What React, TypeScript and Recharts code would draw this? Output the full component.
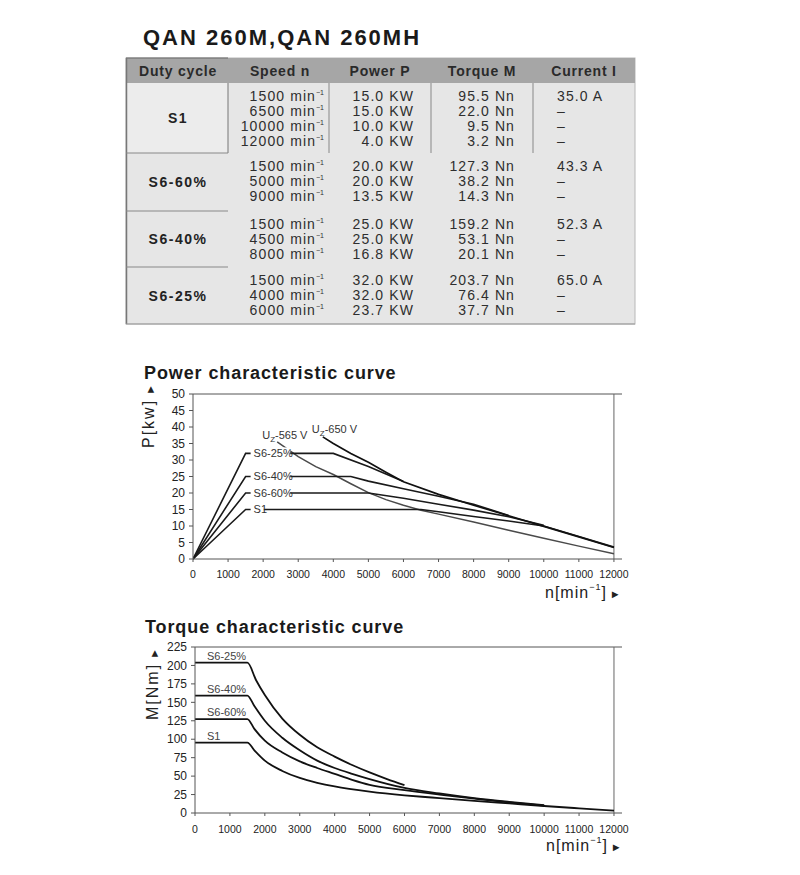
import React from 'react';
import { LineChart, Line, XAxis, YAxis, ReferenceLine, ReferenceDot } from 'recharts';

const FONT = '"Liberation Sans", Arial, Helvetica, sans-serif';

// ---------- table data ----------
const tableHeaders = ['Duty cycle', 'Speed n', 'Power P', 'Torque M', 'Current I'];
const dutyCycles = ['S1', 'S6-60%', 'S6-40%', 'S6-25%'];
const speeds = [
  [1500, 6500, 10000, 12000],
  [1500, 5000, 9000],
  [1500, 4500, 8000],
  [1500, 4000, 6000],
];
const powers = [
  ['15.0', '15.0', '10.0', '4.0'],
  ['20.0', '20.0', '13.5'],
  ['25.0', '25.0', '16.8'],
  ['32.0', '32.0', '23.7'],
];
const torques = [
  ['95.5', '22.0', '9.5', '3.2'],
  ['127.3', '38.2', '14.3'],
  ['159.2', '53.1', '20.1'],
  ['203.7', '76.4', '37.7'],
];
const currents = ['35.0 A', '43.3 A', '52.3 A', '65.0 A'];

// ---------- axis ticks ----------
const nTicks = [0, 1000, 2000, 3000, 4000, 5000, 6000, 7000, 8000, 9000, 10000, 11000, 12000];
const pTicks = [0, 5, 10, 15, 20, 25, 30, 35, 40, 45, 50];
const mTicks = [0, 25, 50, 75, 100, 125, 150, 175, 200, 225];

// ---------- power curves [n, P kW] ----------
const powerS1 = [[0, 0], [1500, 15], [6500, 15], [7000, 14.3], [8000, 12.9], [9000, 11.5], [10000, 10], [11000, 6.8], [12000, 3.6]];
const powerS660 = [[0, 0], [1500, 20], [5000, 20], [6000, 18.4], [7000, 16.6], [8000, 14.8], [9000, 12.8], [10000, 10.2]];
const powerS640 = [[0, 0], [1500, 25], [4500, 25], [5000, 23.6], [6000, 21.3], [7000, 19], [8000, 16.6], [9000, 13.2]];
const powerS625 = [[0, 0], [1500, 32], [4000, 32], [5000, 28], [6000, 23.5]];
const powerU650 = [[3700, 37], [4000, 35], [4500, 32], [5000, 29.3], [5500, 26.3], [6000, 23.4], [7000, 19.6], [8000, 16.3], [9000, 13.1], [10000, 9.9], [11000, 6.7], [12000, 3.5]];
const powerU565 = [[2400, 35.5], [3000, 31], [3500, 28], [4000, 25.6], [4500, 22.8], [5000, 20.1], [5500, 18], [6000, 16.3], [6500, 14.8], [7000, 13.6], [8000, 11.2], [9000, 8.7], [10000, 6.3], [11000, 3.9], [12000, 1.6]];

// ---------- torque curves [n, M Nm] ----------
const torqueS1 = [[0, 95.5], [1500, 95.5], [1700, 85], [2000, 71], [2500, 57], [3000, 47.5], [3500, 41], [4000, 36], [5000, 29], [6000, 24], [6500, 22], [7000, 20.3], [8000, 16.5], [9000, 13], [10000, 9.5], [11000, 6.3], [12000, 3.2]];
const torqueS660 = [[0, 127.3], [1500, 127.3], [1700, 114], [2000, 98], [2500, 82], [3000, 70], [3500, 61], [4000, 53], [4500, 45], [5000, 38.2], [6000, 31], [7000, 25], [8000, 19.5], [9000, 14.3], [10000, 10]];
const torqueS640 = [[0, 159.2], [1500, 159.2], [1700, 145], [2000, 125], [2500, 102], [3000, 85], [3500, 71], [4000, 61], [4500, 53.1], [5000, 46], [6000, 34], [7000, 26.5], [8000, 20.1], [9000, 15], [10000, 10.5]];
const torqueS625 = [[0, 203.7], [1500, 203.7], [1750, 180], [2000, 160], [2500, 128], [3000, 106], [3500, 89], [4000, 76.4], [4500, 65], [5000, 55], [5500, 46], [6000, 37.7]];

const pts = (arr: number[][]) => arr.map(([n, v]) => ({ n, v }));

// ---------- table geometry ----------
const TX0 = 126, TX1 = 635, HY0 = 58, HY1 = 83;
const rowTops = [83, 153, 211, 267];
const rowBottoms = [153, 211, 267, 324];
const colX = [126, 228, 329, 431, 533, 635];
const headerCx = [178, 280, 380, 482, 584];

const bodyText = { fontFamily: FONT, fontSize: 14, fill: '#2e2e2e', letterSpacing: 1.1 } as const;

function Table() {
  const els: React.ReactNode[] = [];
  els.push(<rect key="bg" x={TX0} y={HY0} width={TX1 - TX0} height={rowBottoms[3] - HY0} fill="#e6e6e6" stroke="#b8b8b8" />);
  els.push(<rect key="hdr" x={TX0} y={HY0} width={TX1 - TX0} height={HY1 - HY0} fill="#a6a6a6" />);
  els.push(<line key="hdrtop" x1={TX0} y1={HY0} x2={228} y2={HY0} stroke="#666" />);
  els.push(<rect key="s1cell" x={TX0} y={83} width={102} height={70} fill="#ececec" />);
  els.push(<line key="lb" x1={TX0 + 0.5} y1={HY0} x2={TX0 + 0.5} y2={324} stroke="#777" strokeWidth={1.5} />);
  els.push(<line key="bb" x1={TX0} y1={324} x2={TX1} y2={324} stroke="#999" strokeWidth={1.2} />);
  [1, 2, 3, 4].forEach((i) => {
    els.push(<line key={'v' + i} x1={colX[i]} y1={83} x2={colX[i]} y2={153} stroke={i === 1 ? '#777' : '#888'} />);
  });
  [153, 211, 267].forEach((y, i) => {
    els.push(<line key={'h' + i} x1={TX0} y1={y} x2={228} y2={y} stroke="#888" strokeWidth={1.2} />);
  });
  tableHeaders.forEach((h, i) => {
    els.push(
      <text key={'th' + i} x={headerCx[i]} y={76} textAnchor="middle" fontFamily={FONT} fontSize={14} fontWeight="bold" fill="#2a2a2a" letterSpacing={0.8}>
        {h}
      </text>
    );
  });
  dutyCycles.forEach((d, r) => {
    const top = rowTops[r];
    const mid = (rowTops[r] + rowBottoms[r]) / 2;
    els.push(
      <text key={'d' + r} x={178} y={mid + 5} textAnchor="middle" fontFamily={FONT} fontSize={14} fontWeight="bold" fill="#222" letterSpacing={1.5}>
        {d}
      </text>
    );
    speeds[r].forEach((s, j) => {
      const y = top + 18 + j * 15;
      els.push(
        <text key={`s${r}-${j}`} x={324} y={y} textAnchor="end" {...bodyText}>
          {`${s} min`}
          <tspan dy={-6} fontSize={7} letterSpacing={0}>−1</tspan>
        </text>
      );
      els.push(
        <text key={`p${r}-${j}`} x={414} y={y} textAnchor="end" {...bodyText}>
          {`${powers[r][j]} KW`}
        </text>
      );
      els.push(
        <text key={`t${r}-${j}`} x={515} y={y} textAnchor="end" {...bodyText}>
          {`${torques[r][j]} Nn`}
        </text>
      );
      els.push(
        <text key={`c${r}-${j}`} x={557} y={y} textAnchor="start" {...bodyText}>
          {j === 0 ? currents[r] : '–'}
        </text>
      );
    });
  });
  return <g>{els}</g>;
}

const axisTick = { fill: '#222', fontSize: 10.5, fontFamily: FONT };
const yTick = { fill: '#222', fontSize: 12, fontFamily: FONT };

function boxLabel(text: string) {
  return (props: any) => {
    const { cx, cy } = props;
    const w = text.length * 6.6;
    return (
      <g>
        <rect x={cx + 5} y={cy - 6} width={w} height={12} fill="#fff" />
        <text x={cx + 8} y={cy} dy="0.35em" fontFamily={FONT} fontSize={11} fill="#333">
          {text}
        </text>
      </g>
    );
  };
}

function uLabel(volt: string, dx: number, dy: number) {
  return (props: any) => {
    const { cx, cy } = props;
    return (
      <text x={cx + dx} y={cy + dy} fontFamily={FONT} fontSize={11} fill="#333">
        U<tspan dy={3} fontSize={8}>Z</tspan>
        <tspan dy={-3}>{`-${volt} V`}</tspan>
      </text>
    );
  };
}

function aboveLabel(text: string) {
  return (props: any) => {
    const { cx, cy } = props;
    return (
      <text x={cx + 12} y={cy - 3} fontFamily={FONT} fontSize={11} fill="#444">
        {text}
      </text>
    );
  };
}

const lineProps = { type: 'linear' as const, dataKey: 'v', dot: false, isAnimationActive: false, activeDot: false };

function PowerChart() {
  return (
    <LineChart width={630} height={270} margin={{ top: 54, right: 8, bottom: 31, left: 133 }}>
      <XAxis dataKey="n" type="number" domain={[0, 12230]} ticks={nTicks} interval={0} allowDataOverflow height={20} tickSize={3} tickMargin={9} stroke="#555" tick={axisTick} />
      <YAxis type="number" domain={[0, 50]} ticks={pTicks} interval={0} width={60} tickSize={4} tickMargin={4} stroke="#555" tick={yTick} />
      <ReferenceLine y={50} stroke="#555" />
      <ReferenceLine x={12000} stroke="#666" />
      <Line {...lineProps} data={pts(powerU565)} stroke="#4a4a4a" strokeWidth={1.5} />
      <Line {...lineProps} data={pts(powerS1)} stroke="#1a1a1a" strokeWidth={1.6} />
      <Line {...lineProps} data={pts(powerS660)} stroke="#1a1a1a" strokeWidth={1.6} />
      <Line {...lineProps} data={pts(powerS640)} stroke="#1a1a1a" strokeWidth={1.6} />
      <Line {...lineProps} data={pts(powerS625)} stroke="#1a1a1a" strokeWidth={1.6} />
      <Line {...lineProps} data={pts(powerU650)} stroke="#111" strokeWidth={1.7} />
      <ReferenceDot x={1500} y={32} r={0} shape={boxLabel('S6-25%')} />
      <ReferenceDot x={1500} y={25} r={0} shape={boxLabel('S6-40%')} />
      <ReferenceDot x={1500} y={20} r={0} shape={boxLabel('S6-60%')} />
      <ReferenceDot x={1500} y={15} r={0} shape={boxLabel('S1')} />
      <ReferenceDot x={2400} y={35.5} r={0} shape={uLabel('565', -15, -3)} />
      <ReferenceDot x={3700} y={37} r={0} shape={uLabel('650', -11, -4)} />
    </LineChart>
  );
}

function TorqueChart() {
  const tl = { ...lineProps, type: 'monotone' as const, stroke: '#111', strokeWidth: 1.8 };
  return (
    <LineChart width={630} height={270} margin={{ top: 47, right: 8, bottom: 37, left: 135 }}>
      <XAxis dataKey="n" type="number" domain={[0, 12230]} ticks={nTicks} interval={0} allowDataOverflow height={20} tickSize={3} tickMargin={10} stroke="#555" tick={axisTick} />
      <YAxis type="number" domain={[0, 225]} ticks={mTicks} interval={0} width={60} tickSize={4} tickMargin={4} stroke="#555" tick={yTick} />
      <ReferenceLine y={225} stroke="#555" />
      <ReferenceLine x={12000} stroke="#666" />
      <Line {...tl} data={pts(torqueS1)} />
      <Line {...tl} data={pts(torqueS660)} />
      <Line {...tl} data={pts(torqueS640)} />
      <Line {...tl} data={pts(torqueS625)} />
      <ReferenceDot x={0} y={203.7} r={0} shape={aboveLabel('S6-25%')} />
      <ReferenceDot x={0} y={159.2} r={0} shape={aboveLabel('S6-40%')} />
      <ReferenceDot x={0} y={127.3} r={0} shape={aboveLabel('S6-60%')} />
      <ReferenceDot x={0} y={95.5} r={0} shape={aboveLabel('S1')} />
    </LineChart>
  );
}

function NLabel({ x, y }: { x: number; y: number }) {
  return (
    <text x={x} y={y} fontFamily={FONT} fontSize={16} fill="#222" letterSpacing={1}>
      n[min
      <tspan dy={-8} fontSize={9}>−1</tspan>
      <tspan dy={8}>]</tspan>
      <tspan dx={3} fontSize={11}>►</tspan>
    </text>
  );
}

function YLabel({ x, y, text }: { x: number; y: number; text: string }) {
  return (
    <text transform={`translate(${x},${y}) rotate(-90)`} fontFamily={FONT} fontSize={16} fill="#222" letterSpacing={2}>
      {text}
      <tspan dx={4} fontSize={11}>►</tspan>
    </text>
  );
}

export default function App() {
  return (
    <div style={{ position: 'absolute', left: 0, top: 0, width: 800, height: 875, background: '#fff', overflow: 'hidden' }}>
      <svg width={800} height={875} style={{ position: 'absolute', left: 0, top: 0 }}>
        <text x={143} y={45} fontFamily={FONT} fontSize={22} fontWeight="bold" fill="#1a1a1a" letterSpacing={2}>
          QAN 260M,QAN 260MH
        </text>
        <Table />
        <text x={144} y={379} fontFamily={FONT} fontSize={18} fontWeight="bold" fill="#1a1a1a" letterSpacing={0.9}>
          Power characteristic curve
        </text>
        <text x={145} y={633} fontFamily={FONT} fontSize={18} fontWeight="bold" fill="#1a1a1a" letterSpacing={0.9}>
          Torque characteristic curve
        </text>
        <YLabel x={154} y={448} text="P[kw]" />
        <YLabel x={158} y={720} text="M[Nm]" />
        <NLabel x={545} y={598} />
        <NLabel x={546} y={851} />
      </svg>
      <div style={{ position: 'absolute', left: 0, top: 340 }}>
        <PowerChart />
      </div>
      <div style={{ position: 'absolute', left: 0, top: 600 }}>
        <TorqueChart />
      </div>
    </div>
  );
}
